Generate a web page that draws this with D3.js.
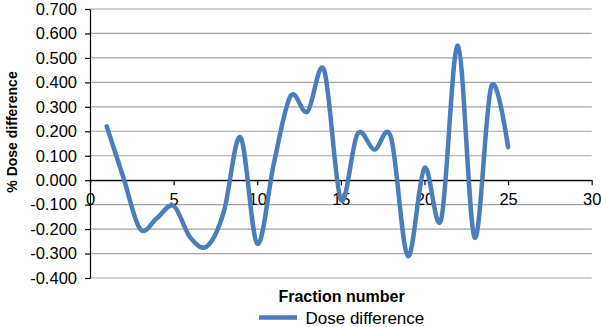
<!DOCTYPE html>
<html>
<head>
<meta charset="utf-8">
<script src="https://cdn.jsdelivr.net/npm/d3@7"></script>
<style>
  body { margin: 0; background: #fff; }
  svg { display: block; font-family: "Liberation Sans", Arial, Helvetica, sans-serif; }
  .grid line { stroke: #a3a3a3; stroke-width: 1.2; }
  .axis path, .axis line { stroke: #000; stroke-width: 1.2; }
  .axis text { font-size: 16.5px; fill: #000; }
</style>
</head>
<body>
<div id="chart"></div>
<script>
var w = 601, h = 327;

// data
var fractions = d3.range(1, 26);
var doseDiff = [0.22, 0.01, -0.20, -0.155, -0.105, -0.235, -0.27, -0.13, 0.175, -0.26,
                0.07, 0.345, 0.28, 0.45, -0.08, 0.19, 0.125, 0.175, -0.31, 0.05,
                -0.16, 0.55, -0.235, 0.385, 0.135];
var xTicks = [0, 5, 10, 15, 20, 25, 30];
var yTicks = [-0.4, -0.3, -0.2, -0.1, 0, 0.1, 0.2, 0.3, 0.4, 0.5, 0.6, 0.7];
var seriesName = "Dose difference";
var xTitle = "Fraction number";
var yTitle = "% Dose difference";

var plotLeft = 90, plotRight = 591.7, plotTop = 9, plotBottom = 278;

var svg = d3.select("#chart").append("svg").attr("width", w).attr("height", h);

var x = d3.scaleLinear().domain([0, 30]).range([plotLeft, plotRight]);
var y = d3.scaleLinear().domain([-0.4, 0.7]).range([plotBottom, plotTop]);

var fmt = d3.format(".3f");
var yFormat = function(d){ return fmt(d).replace("\u2212", "-"); };

/*
 * gridlines
 */
svg.append("g").attr("class", "grid")
  .selectAll("line").data(yTicks).enter().append("line")
  .attr("x1", plotLeft).attr("x2", plotRight)
  .attr("y1", function(d){ return y(d); })
  .attr("y2", function(d){ return y(d); });

/*
 * axes
 */
svg.append("g").attr("class", "axis")
  .attr("transform", "translate(" + plotLeft + ",0)")
  .call(d3.axisLeft(y).tickValues(yTicks).tickFormat(yFormat).tickSize(5).tickPadding(8).tickSizeOuter(0));

svg.append("g").attr("class", "axis")
  .attr("transform", "translate(0," + y(0) + ")")
  .call(d3.axisBottom(x).tickValues(xTicks).tickFormat(d3.format("d")).tickSize(5).tickPadding(8.5).tickSizeOuter(0));

/*
 * series
 */
var line = d3.line()
  .x(function(d, i){ return x(fractions[i]); })
  .y(function(d){ return y(d); })
  .curve(d3.curveCatmullRom.alpha(0));

svg.append("path")
  .datum(doseDiff)
  .attr("d", line)
  .attr("fill", "none")
  .attr("stroke", "#4a7dbb")
  .attr("stroke-width", 4.5)
  .attr("stroke-linecap", "round")
  .attr("stroke-linejoin", "round");

/*
 * titles + legend
 */
svg.append("text")
  .attr("transform", "translate(17,132) rotate(-90)")
  .attr("text-anchor", "middle")
  .attr("font-size", 14).attr("font-weight", "bold")
  .text(yTitle);

svg.append("text")
  .attr("x", 341.5).attr("y", 302)
  .attr("text-anchor", "middle")
  .attr("font-size", 16).attr("font-weight", "bold")
  .text(xTitle);

svg.append("line")
  .attr("x1", 259).attr("x2", 297).attr("y1", 317.5).attr("y2", 317.5)
  .attr("stroke", "#4a7dbb").attr("stroke-width", 4.5);

svg.append("text")
  .attr("x", 305.5).attr("y", 323.5)
  .attr("font-size", 17)
  .text(seriesName);
</script>
</body>
</html>
